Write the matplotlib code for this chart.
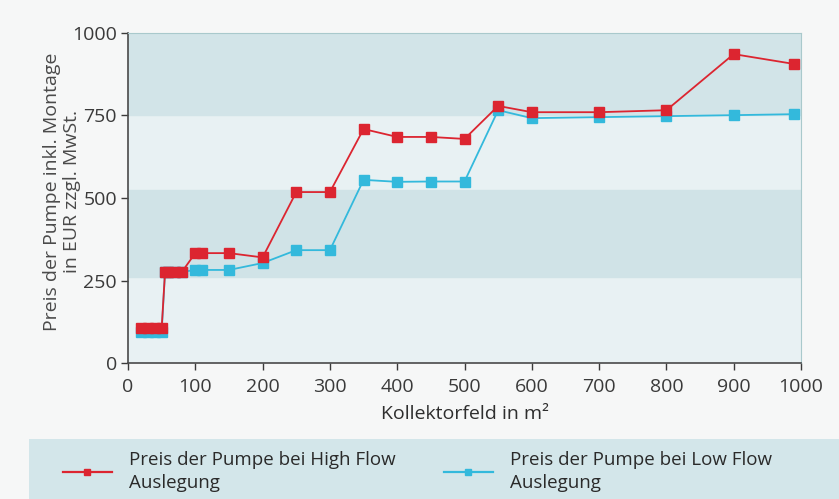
import matplotlib.pyplot as plt
from matplotlib.lines import Line2D

# Kollektorfeld in m2 / price in EUR
x_high = [20, 30, 40, 50, 55, 60, 70, 80, 100, 110, 150, 200, 250, 300, 350, 400, 450, 500, 550, 600, 700, 800, 900, 990]
y_high = [106, 106, 106, 106, 276, 276, 276, 276, 333, 333, 333, 320, 518, 518, 709, 685, 685, 679, 779, 760, 760, 766, 936, 906]

x_low = [20, 30, 40, 50, 55, 60, 70, 80, 100, 110, 150, 200, 250, 300, 350, 400, 450, 500, 550, 600, 700, 800, 900, 990]
y_low = [95, 95, 95, 95, 276, 276, 276, 276, 282, 282, 282, 303, 342, 342, 555, 549, 550, 550, 766, 742, 745, 748, 751, 754]

x_ticks = [0, 100, 200, 300, 400, 500, 600, 700, 800, 900, 1000]
y_ticks = [0, 250, 500, 750, 1000]

RED = '#dc2530'
BLUE = '#33b9dc'

plt.rcParams['font.family'] = ['Open Sans', 'DejaVu Sans']

fig = plt.figure(figsize=(8.39, 4.99), dpi=100)
fig.patch.set_facecolor('#f6f7f7')

# bluish band behind the legend
fig.patches.append(plt.Rectangle((0.035, 0.0), 0.965, 0.12, transform=fig.transFigure,
                                 facecolor='#d3e6ea', edgecolor='none', zorder=0))

ax = fig.add_axes([0.1526, 0.2725, 0.8021, 0.6614])
ax.set_facecolor('#e8f1f3')
ax.axhspan(750, 1000, color='#d2e4e8', zorder=0)
ax.axhspan(260, 525, color='#d0e3e7', zorder=0)

ax.plot(x_low, y_low, color=BLUE, lw=1.3, marker='s', ms=7.5, mec=BLUE, mfc=BLUE, zorder=3)
ax.plot(x_high, y_high, color=RED, lw=1.3, marker='s', ms=7.5, mec=RED, mfc=RED, zorder=4)

ax.set_xlim(0, 1000)
ax.set_ylim(0, 1000)
ax.set_xticks(x_ticks)
ax.set_yticks(y_ticks)
ax.tick_params(labelsize=14, colors='#3a3a3a', direction='out', length=5, width=1)
ax.tick_params(axis='x', pad=6)
ax.tick_params(axis='y', pad=3)

for side in ['left', 'bottom']:
    ax.spines[side].set_color('#4a4a4a')
    ax.spines[side].set_linewidth(1.2)
for side in ['top', 'right']:
    ax.spines[side].set_color('#a9c9cc')
    ax.spines[side].set_linewidth(0.8)

ax.set_xlabel('Kollektorfeld in m²', fontsize=14, color='#2e2e2e', labelpad=6)
ax.set_ylabel('Preis der Pumpe inkl. Montage\nin EUR zzgl. MwSt.', fontsize=14,
              color='#4a4a4a', linespacing=1.15)
ax.yaxis.set_label_coords(-0.07, 0.52)

# legend drawn below the axes
handles = [Line2D([0], [0], color=RED, lw=1.6, marker='s', ms=5),
           Line2D([0], [0], color=BLUE, lw=1.6, marker='s', ms=5)]
labels = ['Preis der Pumpe bei High Flow\nAuslegung', 'Preis der Pumpe bei Low Flow\nAuslegung']
leg = fig.legend(handles, labels, loc='lower left', bbox_to_anchor=(0.055, -0.02), ncol=2,
                 frameon=False, fontsize=13.5, handlelength=2.6, handletextpad=0.9,
                 columnspacing=2.6, labelcolor='#2a2a2a')
for t in leg.get_texts():
    t.set_linespacing(1.35)

fig.savefig('out.png', dpi=100, facecolor=fig.get_facecolor())
